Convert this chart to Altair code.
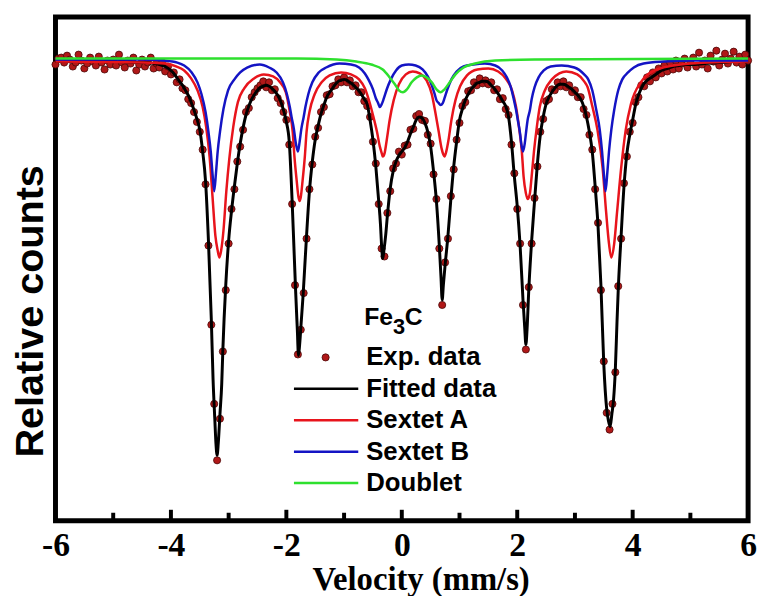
import altair as alt
import pandas as pd

# ---------------- data ----------------
# Experimental spectrum: velocity (mm/s) and relative counts (per mille of baseline)
exp_velocity = [
    -6.00, -5.95, -5.90, -5.85, -5.80, -5.75, -5.70, -5.65, -5.60, -5.55, -5.50, -5.45, -5.40, -5.35, -5.30, -5.25, -5.20, -5.15, -5.10, -5.05,
    -5.00, -4.95, -4.90, -4.85, -4.80, -4.75, -4.70, -4.65, -4.60, -4.55, -4.50, -4.45, -4.40, -4.35, -4.30, -4.25, -4.20, -4.15, -4.10, -4.05,
    -4.00, -3.95, -3.90, -3.85, -3.80, -3.75, -3.70, -3.65, -3.60, -3.55, -3.50, -3.45, -3.40, -3.35, -3.30, -3.25, -3.20, -3.15, -3.10, -3.05,
    -3.00, -2.95, -2.90, -2.85, -2.80, -2.75, -2.70, -2.65, -2.60, -2.55, -2.50, -2.45, -2.40, -2.35, -2.30, -2.25, -2.20, -2.15, -2.10, -2.05,
    -2.00, -1.95, -1.90, -1.85, -1.80, -1.75, -1.70, -1.65, -1.60, -1.55, -1.50, -1.45, -1.40, -1.35, -1.30, -1.25, -1.20, -1.15, -1.10, -1.05,
    -1.00, -0.95, -0.90, -0.85, -0.80, -0.75, -0.70, -0.65, -0.60, -0.55, -0.50, -0.45, -0.40, -0.35, -0.30, -0.25, -0.20, -0.15, -0.10, -0.05,
    0.00, 0.05, 0.10, 0.15, 0.20, 0.25, 0.30, 0.35, 0.40, 0.45, 0.50, 0.55, 0.60, 0.65, 0.70, 0.75, 0.80, 0.85, 0.90, 0.95,
    1.00, 1.05, 1.10, 1.15, 1.20, 1.25, 1.30, 1.35, 1.40, 1.45, 1.50, 1.55, 1.60, 1.65, 1.70, 1.75, 1.80, 1.85, 1.90, 1.95,
    2.00, 2.05, 2.10, 2.15, 2.20, 2.25, 2.30, 2.35, 2.40, 2.45, 2.50, 2.55, 2.60, 2.65, 2.70, 2.75, 2.80, 2.85, 2.90, 2.95,
    3.00, 3.05, 3.10, 3.15, 3.20, 3.25, 3.30, 3.35, 3.40, 3.45, 3.50, 3.55, 3.60, 3.65, 3.70, 3.75, 3.80, 3.85, 3.90, 3.95,
    4.00, 4.05, 4.10, 4.15, 4.20, 4.25, 4.30, 4.35, 4.40, 4.45, 4.50, 4.55, 4.60, 4.65, 4.70, 4.75, 4.80, 4.85, 4.90, 4.95,
    5.00, 5.05, 5.10, 5.15, 5.20, 5.25, 5.30, 5.35, 5.40, 5.45, 5.50, 5.55, 5.60, 5.65, 5.70, 5.75, 5.80, 5.85, 5.90, 5.95, 6.00,
]
exp_counts = [
    996, 1002, 1003, 998, 1005, 1001, 994, 998, 1006, 1000, 992, 997, 1003, 999, 995, 1004, 998, 991, 1000, 996,
    1001, 995, 1006, 998, 993, 1000, 997, 1003, 990, 996, 1001, 994, 998, 1003, 992, 997, 993, 998, 989, 994,
    986, 988, 978, 981, 972, 970, 961, 957, 948, 938, 928, 910, 875, 813, 733, 653, 596, 638, 706, 768,
    815, 850, 870, 898, 913, 930, 948, 952, 963, 968, 972, 975, 979, 973, 978, 970, 971, 962, 957, 948,
    940, 915, 855, 773, 703, 728, 765, 820, 870, 895, 923, 932, 948, 953, 965, 966, 974, 975, 981, 978,
    983, 978, 980, 974, 975, 968, 968, 959, 954, 943, 918, 896, 855, 810, 802, 846, 868, 891, 896, 908,
    905, 914, 915, 930, 931, 944, 946, 940, 939, 925, 916, 885, 860, 810, 753, 796, 820, 863, 890, 920,
    937, 954, 958, 969, 970, 978, 975, 982, 977, 980, 976, 978, 970, 971, 961, 962, 951, 945, 915, 886,
    850, 815, 753, 708, 771, 815, 861, 893, 928, 941, 959, 961, 971, 970, 978, 974, 979, 973, 975, 968,
    970, 963, 963, 951, 945, 925, 910, 870, 836, 768, 696, 644, 627, 653, 685, 772, 820, 876, 903, 928,
    937, 958, 963, 975, 974, 983, 979, 988, 983, 992, 987, 995, 989, 998, 991, 1000, 992, 997, 1002, 993,
    998, 1003, 994, 1008, 996, 1000, 992, 1005, 999, 1010, 995, 1001, 1007, 997, 1002, 1009, 998, 1004, 996, 1006, 1000,
]

# Fitted envelope (velocity, relative counts)
fitted_curve = [
    (-6.00, 999), (-5.00, 999), (-4.50, 998), (-4.40, 998), (-4.30, 997), (-4.20, 996), (-4.10, 994), (-4.00, 990),
    (-3.95, 987), (-3.90, 983), (-3.85, 979), (-3.80, 975), (-3.75, 970), (-3.70, 965), (-3.65, 958), (-3.60, 950),
    (-3.55, 941), (-3.50, 930), (-3.45, 908), (-3.40, 878), (-3.35, 818), (-3.30, 738), (-3.27, 678), (-3.24, 638),
    (-3.22, 613), (-3.20, 601), (-3.18, 613), (-3.15, 643), (-3.12, 673), (-3.10, 708), (-3.05, 773), (-3.00, 818),
    (-2.95, 848), (-2.90, 873), (-2.85, 896), (-2.80, 916), (-2.75, 932), (-2.70, 945), (-2.65, 954), (-2.60, 961),
    (-2.55, 966), (-2.50, 970), (-2.45, 973), (-2.40, 974), (-2.35, 975), (-2.30, 974), (-2.25, 972), (-2.20, 969),
    (-2.15, 965), (-2.10, 959), (-2.05, 950), (-2.00, 938), (-1.95, 918), (-1.90, 858), (-1.87, 813), (-1.84, 768),
    (-1.81, 728), (-1.79, 702), (-1.77, 713), (-1.74, 738), (-1.71, 763), (-1.68, 793), (-1.65, 823), (-1.60, 868),
    (-1.55, 898), (-1.50, 920), (-1.45, 934), (-1.40, 946), (-1.35, 955), (-1.30, 963), (-1.25, 968), (-1.20, 972),
    (-1.15, 976), (-1.10, 979), (-1.05, 980), (-1.00, 981), (-0.95, 980), (-0.90, 978), (-0.85, 976), (-0.80, 973),
    (-0.75, 970), (-0.70, 966), (-0.65, 961), (-0.60, 956), (-0.55, 940), (-0.50, 920), (-0.45, 893), (-0.40, 858),
    (-0.37, 835), (-0.35, 813), (-0.33, 800), (-0.31, 808), (-0.28, 823), (-0.25, 843), (-0.20, 871), (-0.15, 888),
    (-0.10, 898), (-0.05, 904), (0.00, 908), (0.05, 912), (0.10, 918), (0.15, 926), (0.20, 933), (0.25, 940),
    (0.30, 943), (0.35, 942), (0.40, 937), (0.45, 928), (0.50, 913), (0.55, 888), (0.60, 858), (0.65, 813),
    (0.68, 780), (0.70, 758), (0.72, 773), (0.75, 793), (0.80, 823), (0.85, 860), (0.90, 893), (0.95, 918),
    (1.00, 940), (1.05, 951), (1.10, 960), (1.15, 966), (1.20, 971), (1.25, 974), (1.30, 977), (1.35, 978),
    (1.40, 979), (1.45, 979), (1.50, 978), (1.55, 975), (1.60, 972), (1.65, 968), (1.70, 964), (1.75, 959),
    (1.80, 954), (1.85, 943), (1.90, 918), (1.95, 883), (2.00, 853), (2.05, 813), (2.10, 758), (2.13, 730),
    (2.15, 713), (2.17, 728), (2.20, 768), (2.25, 818), (2.30, 858), (2.35, 896), (2.40, 925), (2.45, 943),
    (2.50, 956), (2.55, 963), (2.60, 968), (2.65, 972), (2.70, 975), (2.75, 976), (2.80, 976), (2.85, 975),
    (2.90, 973), (2.95, 971), (3.00, 968), (3.05, 965), (3.10, 961), (3.15, 954), (3.20, 943), (3.25, 928),
    (3.30, 908), (3.35, 873), (3.40, 833), (3.45, 773), (3.50, 693), (3.55, 648), (3.58, 636), (3.61, 630),
    (3.64, 643), (3.67, 658), (3.70, 688), (3.73, 738), (3.75, 768), (3.80, 823), (3.85, 873), (3.90, 906),
    (3.95, 925), (4.00, 940), (4.05, 955), (4.10, 965), (4.15, 972), (4.20, 977), (4.25, 980), (4.30, 982),
    (4.40, 986), (4.50, 990), (4.60, 992), (4.70, 994), (4.80, 995), (4.90, 996), (5.00, 996), (5.25, 997),
    (5.50, 998), (5.75, 999), (6.00, 999),
]

sextet_a_curve = [
    (-6.00, 999), (-4.50, 998), (-4.10, 997), (-3.90, 994), (-3.77, 990), (-3.65, 982), (-3.54, 970), (-3.45, 953),
    (-3.39, 933), (-3.33, 903), (-3.28, 863), (-3.23, 823), (-3.19, 808), (-3.16, 801), (-3.13, 808), (-3.09, 828),
    (-3.04, 868), (-2.99, 900), (-2.92, 933), (-2.84, 958), (-2.73, 972), (-2.56, 982), (-2.39, 986), (-2.23, 984),
    (-2.11, 978), (-2.01, 968), (-1.94, 948), (-1.89, 928), (-1.86, 903), (-1.82, 878), (-1.79, 862), (-1.77, 858),
    (-1.75, 862), (-1.72, 878), (-1.68, 903), (-1.65, 928), (-1.60, 948), (-1.51, 966), (-1.39, 978), (-1.25, 985),
    (-1.05, 988), (-0.88, 986), (-0.74, 981), (-0.64, 972), (-0.57, 960), (-0.50, 945), (-0.43, 928), (-0.38, 913),
    (-0.34, 905), (-0.33, 903), (-0.30, 906), (-0.26, 920), (-0.21, 940), (-0.14, 960), (-0.05, 976), (0.07, 986),
    (0.19, 989), (0.31, 987), (0.43, 980), (0.52, 966), (0.58, 948), (0.64, 928), (0.69, 911), (0.72, 905),
    (0.74, 903), (0.77, 908), (0.81, 920), (0.86, 940), (0.93, 960), (1.01, 974), (1.13, 985), (1.31, 991),
    (1.50, 992), (1.67, 989), (1.81, 981), (1.91, 970), (1.98, 953), (2.03, 933), (2.08, 908), (2.11, 883),
    (2.15, 866), (2.18, 860), (2.22, 866), (2.25, 883), (2.29, 908), (2.34, 933), (2.39, 953), (2.48, 970),
    (2.60, 981), (2.73, 987), (2.85, 989), (3.04, 986), (3.16, 979), (3.22, 973), (3.30, 954), (3.39, 930),
    (3.48, 891), (3.54, 847), (3.59, 815), (3.63, 801), (3.68, 815), (3.73, 847), (3.80, 891), (3.88, 930),
    (3.97, 956), (4.14, 978), (4.42, 991), (5.00, 997), (6.00, 999),
]

sextet_b_curve = [
    (-6.00, 1001), (-4.50, 1001), (-4.11, 1000), (-3.89, 998), (-3.77, 995), (-3.64, 988), (-3.54, 978), (-3.47, 966),
    (-3.40, 948), (-3.35, 928), (-3.31, 908), (-3.28, 886), (-3.25, 868), (-3.22, 886), (-3.19, 908), (-3.15, 928),
    (-3.09, 951), (-3.01, 970), (-2.90, 981), (-2.80, 988), (-2.68, 993), (-2.46, 996), (-2.30, 993), (-2.17, 988),
    (-2.06, 978), (-1.99, 966), (-1.94, 953), (-1.91, 943), (-1.87, 931), (-1.84, 918), (-1.80, 908), (-1.77, 918),
    (-1.74, 931), (-1.70, 943), (-1.67, 953), (-1.62, 966), (-1.55, 978), (-1.44, 988), (-1.31, 993), (-1.08, 997),
    (-0.88, 996), (-0.74, 993), (-0.64, 987), (-0.57, 980), (-0.50, 971), (-0.45, 962), (-0.41, 957), (-0.38, 953),
    (-0.34, 957), (-0.31, 962), (-0.26, 971), (-0.19, 981), (-0.10, 990), (0.00, 995), (0.12, 996), (0.24, 995),
    (0.36, 991), (0.45, 984), (0.52, 975), (0.57, 966), (0.60, 960), (0.64, 957), (0.67, 955), (0.71, 957),
    (0.74, 962), (0.79, 971), (0.86, 981), (0.95, 989), (1.07, 994), (1.24, 996), (1.44, 997), (1.62, 995),
    (1.74, 990), (1.82, 983), (1.89, 973), (1.94, 961), (1.98, 950), (2.01, 940), (2.05, 926), (2.07, 916),
    (2.10, 908), (2.13, 916), (2.15, 926), (2.18, 940), (2.22, 950), (2.25, 961), (2.30, 973), (2.37, 983),
    (2.46, 990), (2.58, 994), (2.77, 995), (2.99, 993), (3.16, 986), (3.23, 981), (3.30, 970), (3.37, 950),
    (3.43, 930), (3.47, 908), (3.50, 886), (3.53, 868), (3.56, 886), (3.59, 908), (3.63, 930), (3.68, 950),
    (3.75, 970), (3.82, 981), (3.92, 988), (4.02, 993), (4.19, 997), (4.54, 999), (5.05, 1000), (6.00, 1000),
]

doublet_curve = [
    (-6.00, 1002), (-1.82, 1002), (-1.13, 1001), (-0.79, 999), (-0.53, 996), (-0.33, 991), (-0.21, 983), (-0.12, 976),
    (-0.05, 970), (0.02, 968), (0.09, 971), (0.17, 978), (0.26, 983), (0.34, 985), (0.43, 983), (0.52, 978),
    (0.60, 971), (0.67, 968), (0.74, 971), (0.83, 978), (0.93, 986), (1.07, 993), (1.27, 997), (1.62, 1000),
    (2.30, 1001), (6.00, 1002),
]

series_names = ["Fitted data", "Sextet A", "Sextet B", "Doublet"]
series_colors = ["#000000", "#e8141c", "#1414c4", "#2ee02e"]
series_widths = [3.0, 2.5, 2.5, 2.5]
series_curves = [fitted_curve, sextet_a_curve, sextet_b_curve, doublet_curve]
legend_entries = ["Exp. data"] + series_names

x_label_values = [-6, -4, -2, 0, 2, 4, 6]
x_major_ticks = [-4, -2, 0, 2, 4]
x_minor_ticks = [-5, -3, -1, 1, 3, 5]

# ---------------- chart ----------------
W, H = 700, 509
POINT_FILL, POINT_STROKE = "#b01818", "#4a0808"

exp_df = pd.DataFrame({"velocity": exp_velocity, "counts": exp_counts})

x_scale = alt.Scale(domain=[-6, 6], nice=False, zero=False)
y_scale = alt.Scale(domain=[535, 1044], nice=False, zero=False)
color_scale = alt.Scale(domain=series_names, range=series_colors)

x_axis = alt.Axis(
    values=x_label_values, title="Velocity (mm/s)", labelExpr="datum.value + ''",
    labelFont="Liberation Serif", labelFontWeight="bold", labelFontSize=34, labelColor="black",
    labelPadding=8, ticks=False, tickSize=0, domain=False, grid=False, labelFlush=False,
    titleFont="Liberation Serif", titleFontWeight="bold", titleFontSize=33, titleColor="black",
    titlePadding=2, titleX=369,
)
y_axis = alt.Axis(
    labels=False, ticks=False, domain=False, grid=False, title="Relative counts",
    titleFont="Liberation Sans", titleFontWeight="bold", titleFontSize=40, titleColor="black",
    titleX=-25, titleY=297, titleBaseline="middle",
)

X = alt.X("velocity:Q", scale=x_scale, axis=x_axis)
Y = alt.Y("counts:Q", scale=y_scale, axis=y_axis)

points = alt.Chart(exp_df).mark_circle(
    size=52, opacity=1, fill=POINT_FILL, stroke=POINT_STROKE, strokeWidth=0.8
).encode(x=X, y=Y)

layers = [points]
for name, curve, width in zip(series_names, series_curves, series_widths):
    df = pd.DataFrame(curve, columns=["velocity", "counts"])
    df["series"] = name
    layers.append(
        alt.Chart(df).mark_line(interpolate="monotone", strokeWidth=width).encode(
            x=X, y=Y, color=alt.Color("series:N", scale=color_scale, legend=None),
        )
    )

major = alt.Chart(pd.DataFrame({"velocity": x_major_ticks})).mark_rule(color="black", strokeWidth=4).encode(
    x=X, y=alt.value(H), y2=alt.value(H - 11)
)
minor = alt.Chart(pd.DataFrame({"velocity": x_minor_ticks})).mark_rule(color="black", strokeWidth=4).encode(
    x=X, y=alt.value(H), y2=alt.value(H - 8)
)
layers += [major, minor]
main = alt.layer(*layers)

# ---------------- legend (built from the series names) ----------------
leg_y = alt.Y("series:N", axis=None,
              scale=alt.Scale(type="point", domain=legend_entries, range=[344, 471], padding=0))
leg_df = pd.DataFrame({"series": legend_entries})
line_leg_df = pd.DataFrame({"series": series_names})

leg_symbols = alt.Chart(line_leg_df).mark_rule(strokeWidth=2.5).encode(
    x=alt.value(241), x2=alt.value(306), y=leg_y,
    color=alt.Color("series:N", scale=color_scale, legend=None),
)
leg_point = alt.Chart(pd.DataFrame({"series": ["Exp. data"]})).mark_circle(
    size=52, opacity=1, fill=POINT_FILL, stroke=POINT_STROKE, strokeWidth=0.8
).encode(x=alt.value(273), y=leg_y)
leg_labels = alt.Chart(leg_df).mark_text(
    align="left", baseline="middle", font="Liberation Sans", fontWeight="bold", fontSize=26, color="black"
).encode(x=alt.value(314), y=leg_y, text="series:N")

one = pd.DataFrame({"series": ["Exp. data"]})
fe = alt.Chart(one).mark_text(text="Fe", align="left", baseline="alphabetic", font="Liberation Sans",
                              fontWeight="bold", fontSize=25, color="black").encode(x=alt.value(312), y=alt.value(311))
sub3 = alt.Chart(one).mark_text(text="3", align="left", baseline="alphabetic", font="Liberation Sans",
                                fontWeight="bold", fontSize=22, color="black").encode(x=alt.value(341), y=alt.value(320))
cc = alt.Chart(one).mark_text(text="C", align="left", baseline="alphabetic", font="Liberation Sans",
                              fontWeight="bold", fontSize=25, color="black").encode(x=alt.value(353), y=alt.value(311))

legend = alt.layer(leg_symbols, leg_point, leg_labels, fe, sub3, cc)

chart = alt.layer(main, legend).resolve_scale(y="independent").properties(
    width=W, height=H,
    autosize=alt.AutoSizeParams(type="none"),
    padding={"left": 48, "top": 6, "right": 9, "bottom": 73},
    background="white",
).configure_view(stroke="black", strokeWidth=5)

chart.save("out.html", embed_options={"renderer": "svg", "actions": False})
